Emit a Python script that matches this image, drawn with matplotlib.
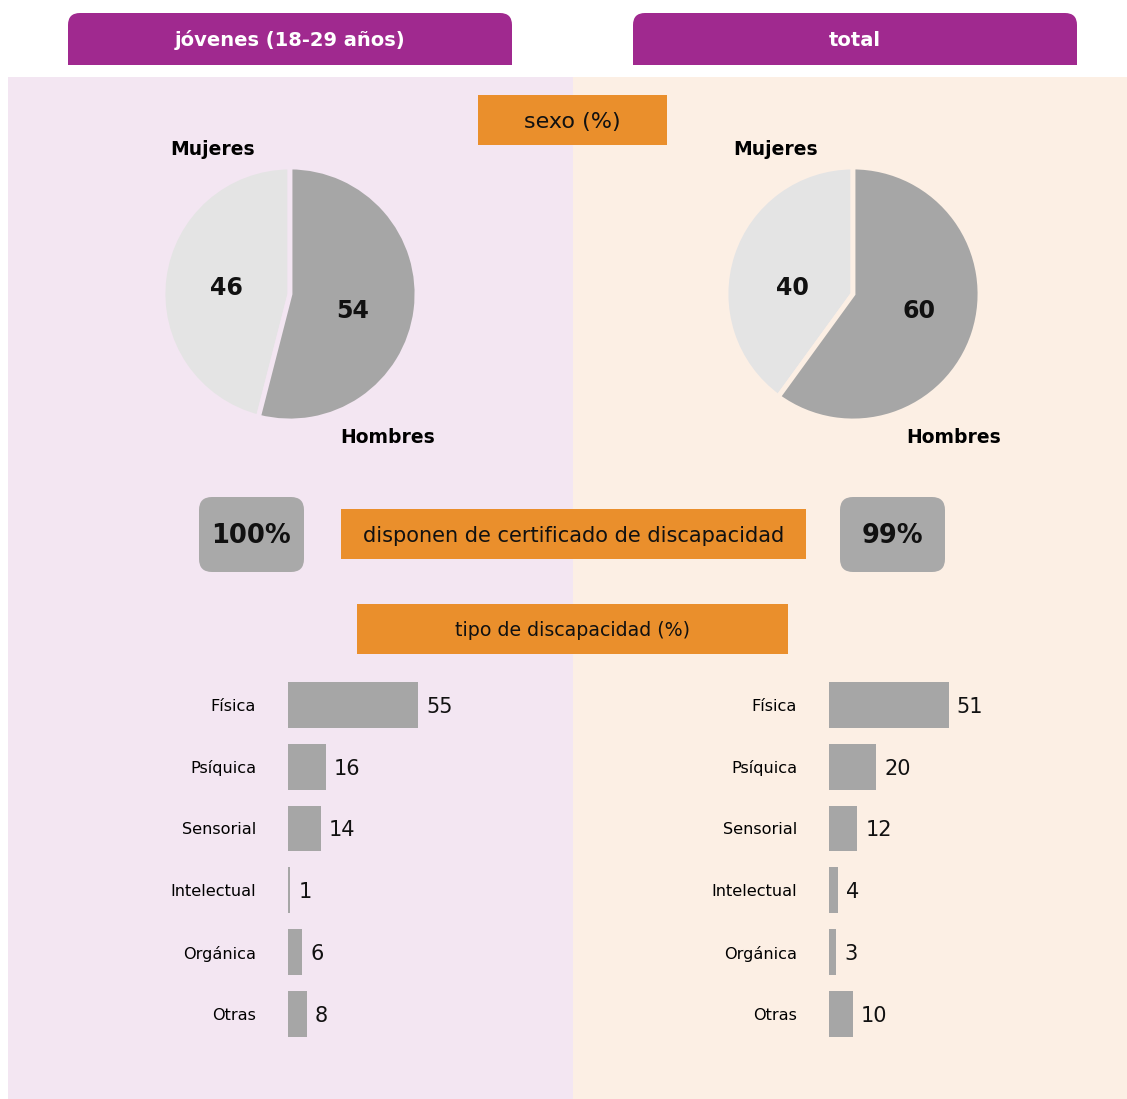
import matplotlib
matplotlib.use("Agg")
import matplotlib.pyplot as plt
from matplotlib.patches import Rectangle, FancyBboxPatch

plt.rcParams['font.family'] = ['DejaVu Sans']

# Datos
grupos = ["jóvenes (18-29 años)", "total"]
sexo_labels = ["Mujeres", "Hombres"]
sexo_jovenes = [46, 54]
sexo_total = [40, 60]
certificado = ["100%", "99%"]
tipos = ["Física", "Psíquica", "Sensorial", "Intelectual", "Orgánica", "Otras"]
tipo_jovenes = [55, 16, 14, 1, 6, 8]
tipo_total = [51, 20, 12, 4, 3, 10]

# Colores
PURPLE = "#A0298F"
PINK_BG = "#F3E6F2"
PEACH_BG = "#FCEFE4"
ORANGE = "#EA8F2C"
GRAY = "#A6A6A6"
LIGHT = "#E4E4E4"
BOX_GRAY = "#A9A9A9"

W, H = 1127, 1099
fig = plt.figure(figsize=(W / 100, H / 100), dpi=100)
fig.patch.set_facecolor("white")


def px_axes(x0, y0, x1, y1, **kw):
    # axes in pixel coords (origin top-left)
    return fig.add_axes([x0 / W, 1 - y1 / H, (x1 - x0) / W, (y1 - y0) / H], **kw)


bg = px_axes(0, 0, W, H)
bg.set_xlim(0, W)
bg.set_ylim(H, 0)
bg.axis("off")
bg.set_zorder(0)

# paneles de fondo
bg.add_patch(Rectangle((8, 77), 565, H - 77, color=PINK_BG, lw=0))
bg.add_patch(Rectangle((573, 77), W - 573, H - 77, color=PEACH_BG, lw=0))

# pestañas de cabecera
for (x0, x1), txt in zip([(68, 512), (633, 1077)], grupos):
    bg.add_patch(FancyBboxPatch((x0, 13), x1 - x0, 52,
                                boxstyle="round,pad=0,rounding_size=12",
                                color=PURPLE, lw=0))
    bg.add_patch(Rectangle((x0, 40), x1 - x0, 25, color=PURPLE, lw=0))
    bg.text((x0 + x1) / 2, 40, txt, color="white", fontsize=14,
            fontweight="bold", ha="center", va="center")

# cajas naranjas
def orange_box(x0, y0, x1, y1, txt, fs):
    bg.add_patch(Rectangle((x0, y0), x1 - x0, y1 - y0, color=ORANGE, lw=0))
    bg.text((x0 + x1) / 2, (y0 + y1) / 2 + 2, txt, fontsize=fs,
            ha="center", va="center", color="#111111")

orange_box(478, 95, 667, 145, "sexo (%)", 16)
orange_box(341, 509, 806, 559, "disponen de certificado de discapacidad", 15)
orange_box(357, 604, 788, 654, "tipo de discapacidad (%)", 13.7)

# cajas grises con porcentaje
for (x0, x1), txt in zip([(199, 304), (840, 945)], certificado):
    bg.add_patch(FancyBboxPatch((x0, 497), x1 - x0, 75,
                                boxstyle="round,pad=0,rounding_size=13",
                                color=BOX_GRAY, lw=0))
    bg.text((x0 + x1) / 2, 536, txt, fontsize=18.5, fontweight="bold",
            ha="center", va="center", color="#111111")

# tartas
pies = [
    (290, 294, sexo_jovenes, PINK_BG, [(-0.50, 0.05), (0.49, -0.13)], 0.77),
    (853, 294, sexo_total, PEACH_BG, [(-0.48, 0.05), (0.52, -0.13)], 0.79),
]
R = 127
for cx, cy, vals, edge, pos, hx in pies:
    ax = px_axes(cx - R, cy - R, cx + R, cy + R)
    ax.set_zorder(2)
    ax.patch.set_alpha(0)
    ax.pie(vals, colors=[LIGHT, GRAY], startangle=90, counterclock=True,
           wedgeprops=dict(edgecolor=edge, linewidth=3.5))
    ax.set_xlim(-1.0, 1.0)
    ax.set_ylim(-1.0, 1.0)
    ax.set_aspect("equal")
    for v, (tx, ty) in zip(vals, pos):
        ax.text(tx, ty, str(v), fontsize=17, fontweight="bold",
                ha="center", va="center", color="#111111")
    ax.text(-0.61, 1.14, sexo_labels[0], fontsize=13.5, fontweight="bold",
            ha="center", va="center", clip_on=False)
    ax.text(hx, -1.13, sexo_labels[1], fontsize=13.5, fontweight="bold",
            ha="center", va="center", clip_on=False)

# barras
bars = [(288, tipo_jovenes, 2.37), (829, tipo_total, 2.35)]
row_top, row_h = 674, 61.8
for x0, vals, scale in bars:
    width_px = 100 * scale
    ax = px_axes(x0, row_top, x0 + width_px, row_top + row_h * len(tipos))
    ax.set_zorder(2)
    ax.patch.set_alpha(0)
    ypos = list(range(len(tipos)))
    ax.barh(ypos, vals, height=0.74, color=GRAY, lw=0)
    ax.set_xlim(0, 100)
    ax.set_ylim(len(tipos) - 0.5, -0.5)
    ax.set_yticks(ypos)
    ax.set_yticklabels(tipos, fontsize=11.6)
    ax.tick_params(axis="y", length=0, pad=23)
    ax.set_xticks([])
    for s in ax.spines.values():
        s.set_visible(False)
    for y, v in zip(ypos, vals):
        ax.text(v + 8 / scale, y + 0.03, str(v), fontsize=15,
                ha="left", va="center", color="#111111")

fig.savefig("out.png", dpi=100)
